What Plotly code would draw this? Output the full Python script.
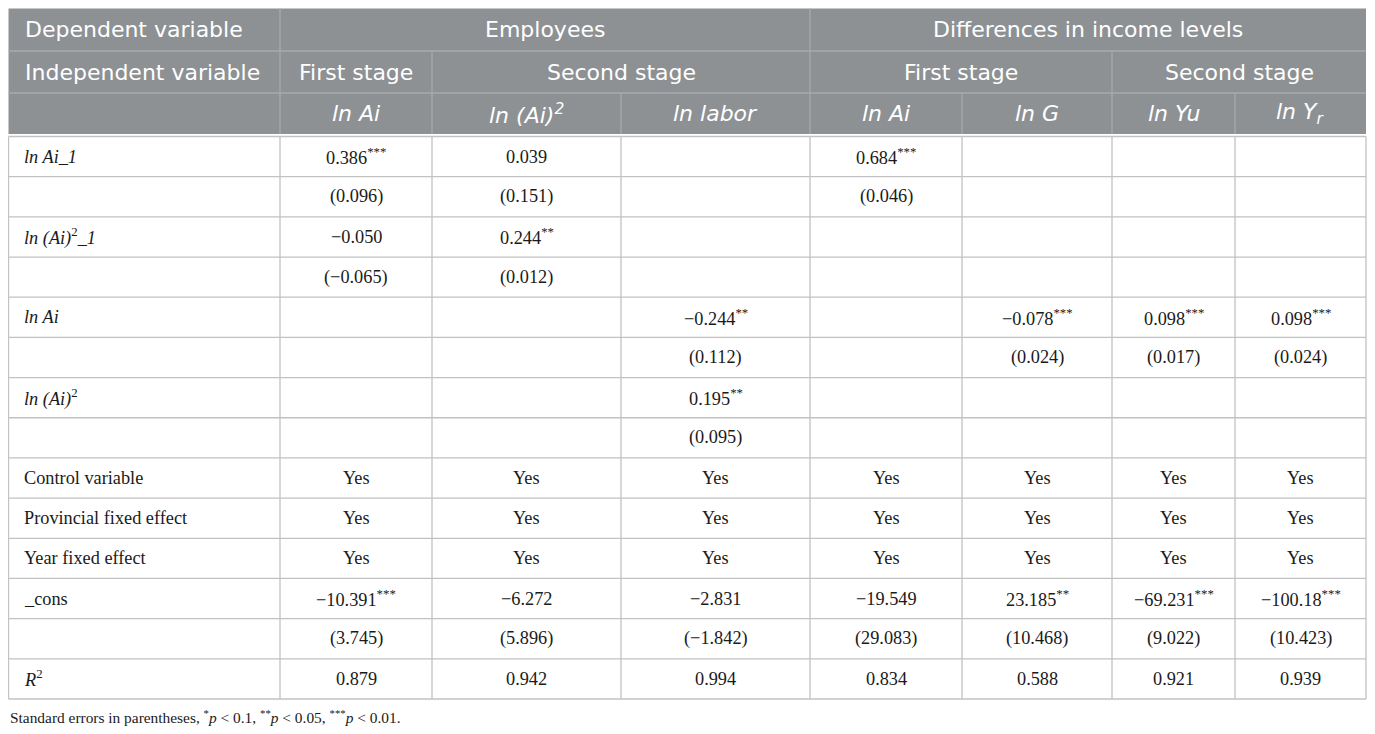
import plotly.graph_objects as go

W, H = 1375, 734
PAGE_MARGIN = 8  # default body margin of the html page

# ---------------- data ----------------
header_row1 = [("Dependent variable", 0, 0), ("Employees", 1, 3), ("Differences in income levels", 4, 7)]
header_row2 = [("Independent variable", 0, 0), ("First stage", 1, 1), ("Second stage", 2, 3),
               ("First stage", 4, 5), ("Second stage", 6, 7)]
header_row3 = ["", "<i>ln Ai</i>", "<i>ln (Ai)<sup>2</sup></i>", "<i>ln labor</i>", "<i>ln Ai</i>",
               "<i>ln G</i>", "<i>ln Yu</i>", "<i>ln Y<sub>r</sub></i>"]

row_labels = ["<i>ln Ai_1</i>", "", "<i>ln (Ai)</i><sup>2</sup><i>_1</i>", "", "<i>ln Ai</i>", "",
              "<i>ln (Ai)</i><sup>2</sup>", "", "Control variable", "Provincial fixed effect",
              "Year fixed effect", "_cons", "", "<i>R</i><sup>2</sup>"]

emp_first_lnAi = ["0.386***", "(0.096)", "−0.050", "(−0.065)", "", "", "", "",
                  "Yes", "Yes", "Yes", "−10.391***", "(3.745)", "0.879"]
emp_second_lnAi2 = ["0.039", "(0.151)", "0.244**", "(0.012)", "", "", "", "",
                    "Yes", "Yes", "Yes", "−6.272", "(5.896)", "0.942"]
emp_second_lnlabor = ["", "", "", "", "−0.244**", "(0.112)", "0.195**", "(0.095)",
                      "Yes", "Yes", "Yes", "−2.831", "(−1.842)", "0.994"]
inc_first_lnAi = ["0.684***", "(0.046)", "", "", "", "", "", "",
                  "Yes", "Yes", "Yes", "−19.549", "(29.083)", "0.834"]
inc_first_lnG = ["", "", "", "", "−0.078***", "(0.024)", "", "",
                 "Yes", "Yes", "Yes", "23.185**", "(10.468)", "0.588"]
inc_second_lnYu = ["", "", "", "", "0.098***", "(0.017)", "", "",
                   "Yes", "Yes", "Yes", "−69.231***", "(9.022)", "0.921"]
inc_second_lnYr = ["", "", "", "", "0.098***", "(0.024)", "", "",
                   "Yes", "Yes", "Yes", "−100.18***", "(10.423)", "0.939"]

value_columns = [emp_first_lnAi, emp_second_lnAi2, emp_second_lnlabor, inc_first_lnAi,
                 inc_first_lnG, inc_second_lnYu, inc_second_lnYr]

footnote = ("Standard errors in parentheses, <sup>*</sup><i>p</i> < 0.1, <sup>**</sup><i>p</i> < 0.05, "
            "<sup>***</sup><i>p</i> < 0.01.")

# ---------------- layout geometry ----------------
col_edges = [8.5, 280, 432, 621, 810, 962, 1112, 1235, 1366]
head_edges = [8.5, 51, 93, 134]
body_top, body_bot = 136.5, 699
n_rows = len(row_labels)
row_h = (body_bot - body_top) / n_rows
body_edges = [body_top + i * row_h for i in range(n_rows + 1)]

HEAD_BG = "#8d9194"
HEAD_LINE = "#a8abad"
BODY_LINE = "#c2c2c2"
HEAD_FONT = dict(family="DejaVu Sans", size=22, color="white")
BODY_FONT = dict(family="Liberation Serif", size=18.3, color="#1a1a1a")


def fmt(v):
    # format significance stars as superscripts
    s = v.rstrip("*")
    stars = v[len(s):]
    return s + (f"<sup>{stars}</sup>" if stars else "")


shapes = []
annotations = []


def line(x0, y0, x1, y1, color, w=1.3):
    shapes.append(dict(type="line", xref="x", yref="y", x0=x0, y0=y0, x1=x1, y1=y1,
                       line=dict(color=color, width=w), layer="above"))


# header background
shapes.append(dict(type="rect", xref="x", yref="y", x0=col_edges[0], x1=col_edges[-1],
                   y0=head_edges[0], y1=head_edges[-1], fillcolor=HEAD_BG,
                   line=dict(width=0), layer="below"))

# header horizontal lines
for y in head_edges[1:-1]:
    line(col_edges[0], y, col_edges[-1], y, HEAD_LINE)


def header_row(cells, r):
    y0, y1 = head_edges[r], head_edges[r + 1]
    for text, c0, c1 in cells:
        x0, x1 = col_edges[c0], col_edges[c1 + 1]
        if c0 == 0:
            annotations.append(dict(x=23, y=(y0 + y1) / 2, text=text, xanchor="left",
                                    yanchor="middle", showarrow=False, font=HEAD_FONT))
        else:
            annotations.append(dict(x=(x0 + x1) / 2, y=(y0 + y1) / 2, text=text, xanchor="center",
                                    yanchor="middle", showarrow=False, font=HEAD_FONT))
        if c1 + 1 < len(col_edges) - 1:
            line(x1, y0, x1, y1, HEAD_LINE)


header_row(header_row1, 0)
header_row(header_row2, 1)
header_row([(t, i, i) for i, t in enumerate(header_row3)], 2)

# body lines
for y in body_edges:
    line(col_edges[0], y, col_edges[-1], y, BODY_LINE)
for x in col_edges:
    line(x, body_top, x, body_bot, BODY_LINE)

# body text
for r in range(n_rows):
    yc = (body_edges[r] + body_edges[r + 1]) / 2
    if row_labels[r]:
        annotations.append(dict(x=22, y=yc, text=row_labels[r], xanchor="left",
                                yanchor="middle", showarrow=False, font=BODY_FONT))
    for c, col in enumerate(value_columns):
        v = col[r]
        if v:
            xc = (col_edges[c + 1] + col_edges[c + 2]) / 2
            annotations.append(dict(x=xc, y=yc, text=fmt(v), xanchor="center", yanchor="middle",
                                    showarrow=False, font=BODY_FONT))

annotations.append(dict(x=8, y=716, text=footnote, xanchor="left", yanchor="middle",
                        showarrow=False, font=dict(family="Liberation Serif", size=15.4, color="#1a1a1a")))

fig = go.Figure()
fig.update_layout(
    width=W - 2 * PAGE_MARGIN, height=H - 2 * PAGE_MARGIN, margin=dict(l=0, r=0, t=0, b=0),
    paper_bgcolor="white", plot_bgcolor="white",
    xaxis=dict(range=[PAGE_MARGIN, W - PAGE_MARGIN], visible=False, fixedrange=True),
    yaxis=dict(range=[H - PAGE_MARGIN, PAGE_MARGIN], visible=False, fixedrange=True),
    shapes=shapes, annotations=annotations, showlegend=False,
)
fig.write_html("out.html")
